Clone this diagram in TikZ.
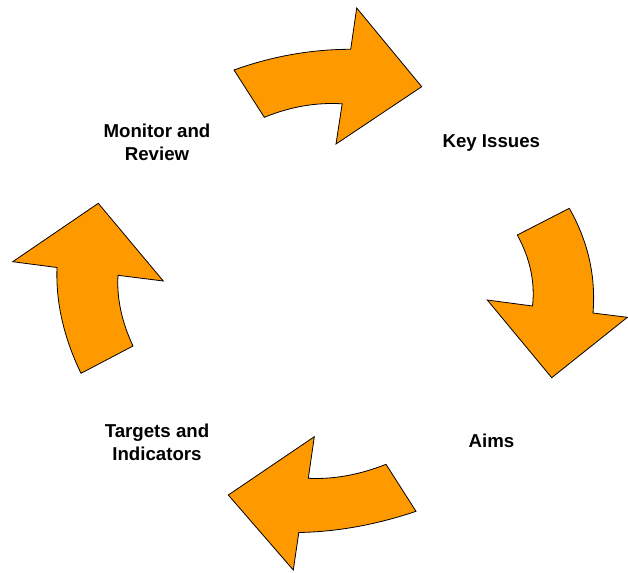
\documentclass[tikz,border=0pt]{standalone}
\usepackage{fontspec}
\setmainfont{Liberation Sans}
\usepackage{xcolor}
\usepackage{tikz}

\definecolor{cycleorange}{RGB}{255,153,0}

\begin{document}
\begin{tikzpicture}[x=0.75pt,y=0.75pt,yscale=-1,
  cyclearrow/.style={draw=black,fill=cycleorange,line width=0.6pt,line join=miter},
  steplabel/.style={anchor=base,inner sep=0pt,align=center,font=\bfseries\fontsize{14}{17.6}\selectfont}]
\path[use as bounding box] (0,0) rectangle (628,572);

%Shape: Curved Arrow (top)
\draw [cyclearrow] (234,70) .. controls (272.4,56.2) and (311.3,49.3) .. (350.7,49.3) -- (356.7,8) -- (421.7,86.7) -- (336,144) -- (342.2,103.8) .. controls (316.3,102.2) and (290.3,106.7) .. (264.3,117.3) -- cycle ;
%Shape: Curved Arrow (right)
\draw [cyclearrow] (569.3,208.3) .. controls (588.1,241.4) and (596,276.3) .. (593,313) -- (627.4,317.3) -- (551.7,377.7) -- (487.3,300) -- (532.5,306) .. controls (535.2,282.1) and (530.1,258.4) .. (517.3,235) -- cycle ;
%Shape: Curved Arrow (bottom)
\draw [cyclearrow] (416,511.3) -- (386,464.3) .. controls (359.5,474.8) and (333.6,479.5) .. (308.3,478.3) -- (314.3,436.7) -- (228.3,495) -- (293.3,570) -- (298.8,532.5) .. controls (336.9,531.8) and (376,524.8) .. (416,511.3) -- cycle ;
%Shape: Curved Arrow (left)
\draw [cyclearrow] (81,373.3) -- (133,346) .. controls (121.6,321.6) and (116.6,298) .. (118,275.3) -- (163.3,281) -- (98.3,203.3) -- (12.7,261.7) -- (57,267.5) .. controls (55.7,302.2) and (63.7,337.5) .. (81,373.3) -- cycle ;

% Text Node
\node [steplabel] (keyissues) at (491.3,147.7) {Key Issues};
% Text Node
\node [steplabel] (aims) at (491.5,447.5) {Aims};
% Text Node
\node [steplabel] (targets) at (157,460.7) {Targets and\\ Indicators};
% Text Node
\node [steplabel] (monitor) at (157,160.7) {Monitor and\\ Review};
\end{tikzpicture}
\end{document}
